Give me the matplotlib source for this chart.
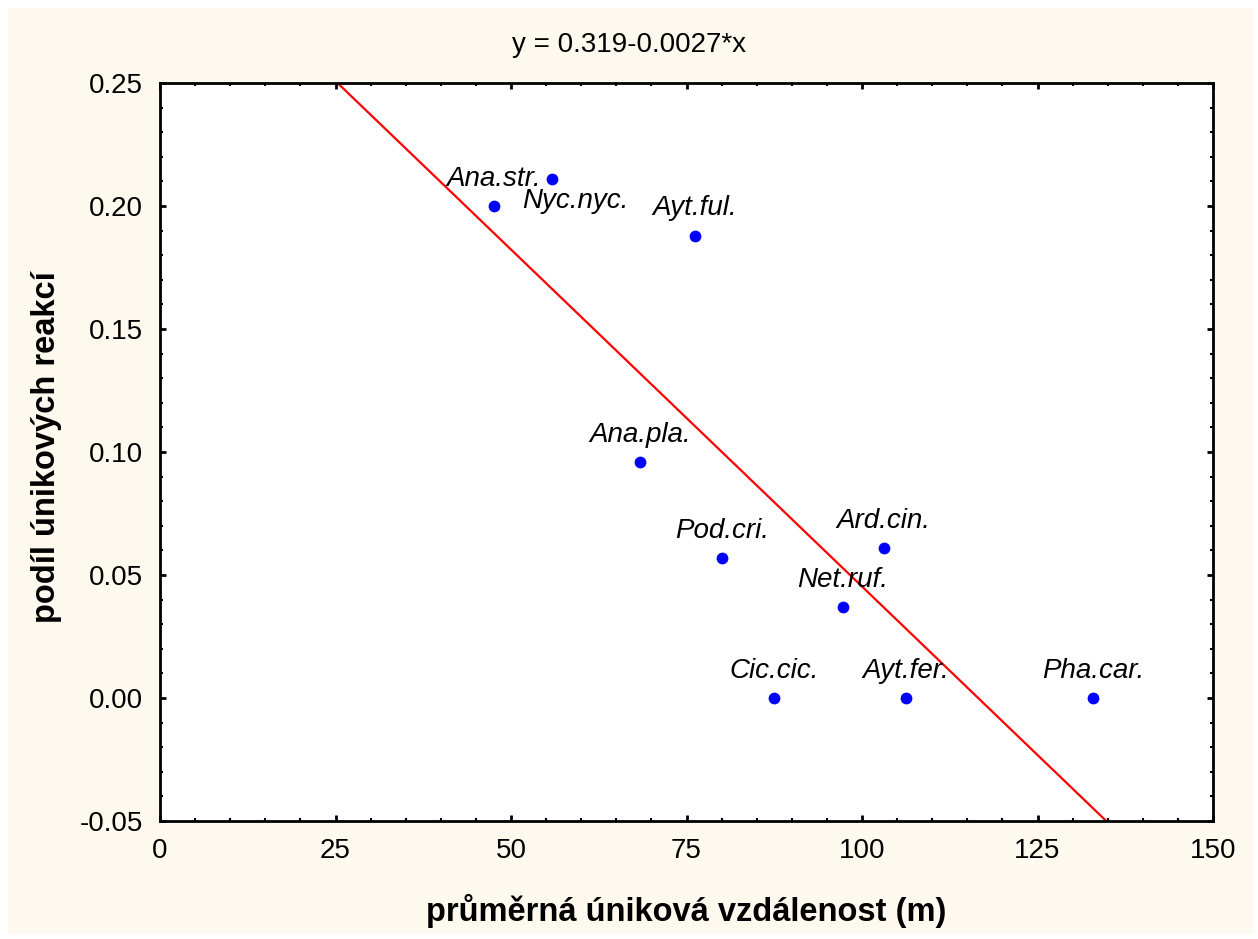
import numpy as np
import matplotlib
matplotlib.use('Agg')
import matplotlib.pyplot as plt
from matplotlib.patches import Rectangle
from matplotlib.ticker import MultipleLocator, FormatStrFormatter

plt.rcParams['font.family'] = ['Liberation Sans', 'DejaVu Sans']

# data
species = ['Ana.str.', 'Nyc.nyc.', 'Ayt.ful.', 'Ana.pla.', 'Pod.cri.',
           'Ard.cin.', 'Net.ruf.', 'Cic.cic.', 'Ayt.fer.', 'Pha.car.']
distance = [47.6, 55.8, 76.2, 68.4, 80.1, 103.1, 97.3, 87.5, 106.3, 132.9]
escape_share = [0.200, 0.211, 0.188, 0.096, 0.057, 0.061, 0.037, 0.0, 0.0, 0.0]
title_text = 'y = 0.319-0.0027*x'

# label offsets (points) relative to each marker
offsets = {'Nyc.nyc.': (17, -16)}

fig = plt.figure(figsize=(12.58, 9.39), dpi=100)
fig.patch.set_facecolor('white')
fig.patches.append(Rectangle((8 / 1258, 5 / 939), 1245 / 1258, 926 / 939,
                             transform=fig.transFigure, facecolor='#fef9ee',
                             edgecolor='none', zorder=-10))

ax = fig.add_axes([160 / 1258, 1 - 821 / 939, 1053 / 1258, 738 / 939])
ax.set_facecolor('white')

# regression line
slope, intercept = np.polyfit(distance, escape_share, 1)
xl = np.array([0, 150])
ax.plot(xl, intercept + slope * xl, color='red', lw=1.6, zorder=2)

ax.scatter(distance, escape_share, s=72, color='#0000ff', zorder=3, linewidths=0)

for name, xv, yv in zip(species, distance, escape_share):
    dx, dy = offsets.get(name, (0, 19.5))
    ax.annotate(name, (xv, yv), xytext=(dx, dy), textcoords='offset points',
                ha='center', va='center', fontsize=20, style='italic', zorder=4)

ax.set_xlim(0, 150)
ax.set_ylim(-0.05, 0.25)
ax.xaxis.set_major_locator(MultipleLocator(25))
ax.xaxis.set_minor_locator(MultipleLocator(5))
ax.yaxis.set_major_locator(MultipleLocator(0.05))
ax.yaxis.set_minor_locator(MultipleLocator(0.01))
ax.yaxis.set_major_formatter(FormatStrFormatter('%.2f'))

ax.tick_params(which='both', direction='in', top=True, right=True, labelsize=20)
ax.tick_params(which='major', length=4, width=2, pad=12)
ax.tick_params(which='minor', length=2.5, width=1.5)
for s in ax.spines.values():
    s.set_linewidth(2)

fig.text(0.5, 1 - 45 / 939, title_text, ha='center', va='center', fontsize=20)
fig.text(686 / 1258, 1 - 911 / 939, 'průměrná úniková vzdálenost (m)',
         ha='center', va='center', fontsize=23.5, fontweight='bold')
fig.text(47 / 1258, 1 - 447 / 939, 'podíl únikových reakcí', rotation=90,
         ha='center', va='center', fontsize=23.5, fontweight='bold')

fig.savefig('out.png', dpi=100)
